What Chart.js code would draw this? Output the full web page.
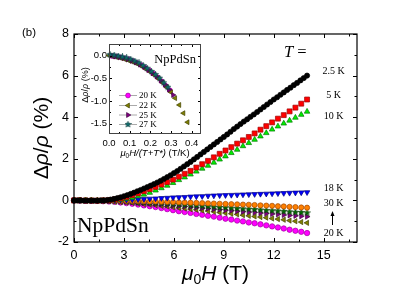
<!DOCTYPE html>
<html>
<head>
<meta charset="utf-8">
<script src="https://cdn.jsdelivr.net/npm/chart.js@4/dist/chart.umd.min.js"></script>
<style>
  html, body { margin: 0; padding: 0; background: #fff; }
  #wrap { position: relative; width: 415px; height: 291px; }
  #main { position: absolute; left: 0; top: 0; }
  #inset { position: absolute; left: 80px; top: 36px; }
</style>
</head>
<body>
<div id="wrap">
  <canvas id="main" width="415" height="291"></canvas>
  <canvas id="inset" width="130" height="125"></canvas>
</div>
<script>
// field in tesla
var field = [0, 0.35, 0.7, 1.05, 1.4, 1.75, 2.1, 2.45, 2.8, 3.15, 3.5, 3.85, 4.2, 4.55, 4.9, 5.25, 5.6, 5.95, 6.3, 6.65,
  7, 7.35, 7.7, 8.05, 8.4, 8.75, 9.1, 9.45, 9.8, 10.15, 10.5, 10.85, 11.2, 11.55, 11.9, 12.25, 12.6, 12.95, 13.3, 13.65, 14];
// the 2.5 K run was measured on a finer field grid
var field2p5K = [0, 0.2, 0.4, 0.6, 0.8, 1, 1.2, 1.4, 1.6, 1.8, 2, 2.2, 2.4, 2.6, 2.8, 3, 3.2, 3.4, 3.6, 3.8,
  4, 4.2, 4.4, 4.6, 4.8, 5, 5.2, 5.4, 5.6, 5.8, 6, 6.2, 6.4, 6.6, 6.8, 7, 7.2, 7.4, 7.6, 7.8,
  8, 8.2, 8.4, 8.6, 8.8, 9, 9.2, 9.4, 9.6, 9.8, 10, 10.2, 10.4, 10.6, 10.8, 11, 11.2, 11.4, 11.6, 11.8,
  12, 12.2, 12.4, 12.6, 12.8, 13, 13.2, 13.4, 13.6, 13.8, 14];

// magnetoresistance in %
var mr2p5K = [0, 0, 0, -0.01, -0.01, -0.01, -0.01, -0.01, 0, 0, 0.02, 0.04, 0.07, 0.11, 0.15, 0.2, 0.25, 0.31, 0.37, 0.44,
  0.5, 0.57, 0.64, 0.71, 0.78, 0.86, 0.94, 1.03, 1.12, 1.21, 1.31, 1.41, 1.52, 1.63, 1.74, 1.85, 1.97, 2.09, 2.21, 2.33,
  2.45, 2.57, 2.69, 2.81, 2.93, 3.05, 3.17, 3.3, 3.43, 3.55, 3.67, 3.79, 3.9, 4.02, 4.13, 4.25, 4.37, 4.49, 4.61, 4.73,
  4.85, 4.96, 5.08, 5.19, 5.31, 5.42, 5.54, 5.65, 5.77, 5.88, 6.0];
var mr5K = [0, 0, -0.01, -0.01, -0.01, 0, 0.01, 0.05, 0.1, 0.17, 0.25, 0.34, 0.44, 0.54, 0.65, 0.76, 0.88, 1.0, 1.14, 1.28,
  1.42, 1.58, 1.74, 1.9, 2.07, 2.24, 2.4, 2.56, 2.73, 2.89, 3.05, 3.22, 3.4, 3.57, 3.75, 3.93, 4.1, 4.28, 4.46, 4.65, 4.85];
var mr10K = [0, 0, -0.01, -0.01, -0.02, -0.02, -0.01, 0.01, 0.04, 0.08, 0.13, 0.2, 0.28, 0.37, 0.48, 0.59, 0.71, 0.84, 0.98, 1.11,
  1.25, 1.39, 1.53, 1.67, 1.82, 1.97, 2.12, 2.28, 2.44, 2.61, 2.76, 2.92, 3.08, 3.24, 3.41, 3.56, 3.7, 3.84, 3.98, 4.12, 4.27];
var mr18K = [0, 0, 0, 0, 0, 0.01, 0.01, 0.01, 0.02, 0.03, 0.04, 0.05, 0.06, 0.08, 0.09, 0.11, 0.12, 0.14, 0.15, 0.16,
  0.18, 0.19, 0.2, 0.22, 0.23, 0.24, 0.25, 0.26, 0.27, 0.28, 0.29, 0.3, 0.31, 0.32, 0.33, 0.34, 0.35, 0.36, 0.37, 0.38, 0.39];
var mr30K = [0, 0, 0, 0, -0.01, -0.01, -0.01, -0.02, -0.02, -0.02, -0.03, -0.03, -0.04, -0.05, -0.05, -0.06, -0.07, -0.08, -0.09, -0.1,
  -0.11, -0.12, -0.13, -0.14, -0.15, -0.16, -0.17, -0.18, -0.19, -0.2, -0.21, -0.22, -0.24, -0.25, -0.26, -0.28, -0.29, -0.31, -0.32, -0.34, -0.35];
var mr27K = [0, 0, 0, -0.01, -0.01, -0.02, -0.02, -0.03, -0.04, -0.05, -0.06, -0.08, -0.09, -0.11, -0.12, -0.14, -0.16, -0.18, -0.2, -0.22,
  -0.24, -0.26, -0.28, -0.3, -0.32, -0.34, -0.35, -0.37, -0.39, -0.41, -0.42, -0.44, -0.46, -0.48, -0.5, -0.51, -0.53, -0.55, -0.57, -0.58, -0.6];
var mr25K = [0, 0, -0.01, -0.01, -0.02, -0.02, -0.03, -0.04, -0.06, -0.07, -0.09, -0.11, -0.13, -0.15, -0.17, -0.19, -0.22, -0.24, -0.27, -0.29,
  -0.32, -0.34, -0.37, -0.39, -0.42, -0.44, -0.47, -0.49, -0.52, -0.54, -0.56, -0.58, -0.61, -0.63, -0.65, -0.67, -0.7, -0.72, -0.74, -0.76, -0.78];
var mr22K = [0, 0, -0.01, -0.01, -0.02, -0.03, -0.04, -0.06, -0.08, -0.1, -0.12, -0.15, -0.18, -0.2, -0.23, -0.26, -0.29, -0.33, -0.36, -0.39,
  -0.42, -0.45, -0.48, -0.51, -0.54, -0.58, -0.61, -0.64, -0.67, -0.71, -0.74, -0.77, -0.8, -0.83, -0.87, -0.9, -0.93, -0.97, -1.0, -1.04, -1.08];
var mr20K = [0, 0, -0.01, -0.01, -0.02, -0.04, -0.05, -0.07, -0.1, -0.13, -0.16, -0.2, -0.24, -0.28, -0.32, -0.37, -0.42, -0.47, -0.52, -0.56,
  -0.6, -0.65, -0.69, -0.74, -0.78, -0.83, -0.88, -0.92, -0.97, -1.01, -1.06, -1.1, -1.15, -1.2, -1.25, -1.3, -1.35, -1.41, -1.46, -1.51, -1.57];

var tempLabels = ['2.5 K', '5 K', '10 K', '18 K', '30 K', '20 K'];

// inset: scaled field mu0H/(T+T*)
var scaled20K = [0.015, 0.035, 0.055, 0.075, 0.095, 0.115, 0.135, 0.155, 0.175, 0.195, 0.215, 0.235, 0.255, 0.275, 0.295];
var inset20K = [-0.01, -0.02, -0.04, -0.06, -0.08, -0.12, -0.16, -0.21, -0.27, -0.33, -0.4, -0.48, -0.57, -0.67, -0.77];
var scaled22K = [0, 0.02, 0.04, 0.06, 0.08, 0.1, 0.12, 0.14, 0.16, 0.18, 0.2, 0.22, 0.24, 0.26, 0.28, 0.3, 0.32, 0.34, 0.36, 0.38];
var inset22K = [0, -0.02, -0.04, -0.06, -0.09, -0.12, -0.15, -0.19, -0.24, -0.3, -0.36, -0.43, -0.51, -0.6, -0.7, -0.81, -0.94, -1.09, -1.27, -1.47];
var scaled25K = [0.01, 0.03, 0.05, 0.07, 0.09, 0.11, 0.13, 0.15, 0.17, 0.19, 0.21, 0.23, 0.25, 0.27, 0.29, 0.31];
var inset25K = [0, -0.02, -0.03, -0.05, -0.08, -0.11, -0.15, -0.2, -0.25, -0.32, -0.39, -0.46, -0.55, -0.64, -0.75, -0.87];
var scaled27K = [0.005, 0.025, 0.045, 0.065, 0.085, 0.105, 0.125, 0.145, 0.165, 0.185, 0.205, 0.225, 0.245, 0.265, 0.285];
var inset27K = [0.02, 0.01, -0.01, -0.03, -0.05, -0.08, -0.12, -0.16, -0.22, -0.28, -0.35, -0.42, -0.5, -0.6, -0.7];
var insetLabels = ['20 K', '22 K', '25 K', '27 K'];

function pts(xs, ys) {
  return xs.map(function(x, i) { return {x: x, y: ys[i]}; });
}

function starImg(fill, edge, size) {
  var c = document.createElement('canvas');
  c.width = size; c.height = size;
  var g = c.getContext('2d');
  var cx = size / 2, cy = size / 2, ro = size / 2 - 0.3, ri = ro * 0.45;
  g.beginPath();
  for (var i = 0; i < 10; i++) {
    var r = i % 2 ? ri : ro;
    var a = -Math.PI / 2 + i * Math.PI / 5;
    g.lineTo(cx + r * Math.cos(a), cy + r * Math.sin(a));
  }
  g.closePath();
  g.fillStyle = fill; g.fill();
  g.strokeStyle = edge; g.lineWidth = 0.6; g.stroke();
  return c;
}

function series(xs, ys, fill, edge, style, rot, r) {
  return {
    data: pts(xs, ys), showLine: false, pointStyle: style, rotation: rot || 0,
    pointRadius: r, backgroundColor: fill, borderColor: edge, borderWidth: 0.7, clip: false
  };
}

function drawRuns(ctx, runs, x, y, align) {
  var w = 0;
  runs.forEach(function(r) { ctx.font = r.f; r.w = ctx.measureText(r.t).width; w += r.w; });
  var cx = align === 'center' ? x - w / 2 : (align === 'right' ? x - w : x);
  runs.forEach(function(r) {
    ctx.font = r.f;
    ctx.fillText(r.t, cx, y + (r.dy || 0));
    cx += r.w;
  });
}

function line(ctx, x1, y1, x2, y2) {
  ctx.beginPath(); ctx.moveTo(x1, y1); ctx.lineTo(x2, y2); ctx.stroke();
}

var tickFont = {family: 'Liberation Sans', size: 12.5};

var mainDecor = {
  id: 'mainDecor',
  afterDraw: function(chart) {
    var ctx = chart.ctx, a = chart.chartArea, xs = chart.scales.x, ys = chart.scales.y;
    ctx.save();
    ctx.strokeStyle = '#000';
    ctx.lineWidth = 1;
    var v, p, len;
    for (v = 0; v <= 17; v += 1.5) {
      p = Math.round(xs.getPixelForValue(v)) + 0.5;
      len = v % 3 === 0 ? 4 : 2.5;
      line(ctx, p, a.bottom, p, a.bottom - len);
      line(ctx, p, a.top, p, a.top + len);
    }
    for (v = -2; v <= 8; v += 1) {
      p = Math.round(ys.getPixelForValue(v)) + 0.5;
      len = v % 2 === 0 ? 4 : 2.5;
      line(ctx, a.left, p, a.left + len, p);
      line(ctx, a.right, p, a.right - len, p);
    }
    ctx.lineWidth = 1.2;
    ctx.strokeRect(a.left, a.top, a.right - a.left, a.bottom - a.top);

    ctx.fillStyle = '#000';
    ctx.textBaseline = 'alphabetic';
    ctx.font = '11.5px "Liberation Sans"';
    ctx.fillText('(b)', 22, 36);

    // axis titles
    drawRuns(ctx, [
      {t: 'μ', f: 'italic 21px "Liberation Sans"'},
      {t: '0', f: '14px "Liberation Sans"', dy: 4},
      {t: 'H', f: 'italic 21px "Liberation Sans"'},
      {t: ' (T)', f: '21px "Liberation Sans"'}
    ], (a.left + a.right) / 2, 280, 'center');

    ctx.save();
    ctx.translate(48, (a.top + a.bottom) / 2);
    ctx.rotate(-Math.PI / 2);
    drawRuns(ctx, [
      {t: 'Δ', f: '21px "Liberation Sans"'},
      {t: 'ρ', f: 'italic 21px "Liberation Sans"'},
      {t: '/', f: '21px "Liberation Sans"'},
      {t: 'ρ', f: 'italic 21px "Liberation Sans"'},
      {t: ' (%)', f: '21px "Liberation Sans"'}
    ], 0, 0, 'center');
    ctx.restore();

    drawRuns(ctx, [
      {t: 'T', f: 'italic 16.5px "Liberation Serif"'},
      {t: ' =', f: '16.5px "Liberation Serif"'}
    ], 284, 56.5, 'left');

    ctx.font = '10px "Liberation Serif"';
    ctx.textAlign = 'center';
    var labelY = [74, 98, 119, 191, 206, 236];
    tempLabels.forEach(function(t, i) { ctx.fillText(t, 333.5, labelY[i]); });
    ctx.textAlign = 'left';

    // arrow from 20 K up to 30 K
    ctx.lineWidth = 1;
    line(ctx, 332.5, 225, 332.5, 214);
    ctx.beginPath();
    ctx.moveTo(332.5, 211); ctx.lineTo(330.5, 216); ctx.lineTo(334.5, 216); ctx.closePath();
    ctx.fill();

    ctx.font = '21.5px "Liberation Serif"';
    ctx.fillText('NpPdSn', 77, 231.5);
    ctx.restore();
  }
};

new Chart(document.getElementById('main'), {
  type: 'scatter',
  data: {
    datasets: [
      series(field2p5K, mr2p5K, '#000000', '#000000', 'circle', 0, 2.6),
      series(field, mr5K, '#ff0000', '#a00000', 'rect', 0, 3.5),
      series(field, mr10K, '#00ee00', '#007a00', 'triangle', 0, 3.2),
      series(field, mr18K, '#0000ff', '#000080', 'triangle', 180, 3.2),
      series(field, mr30K, '#ff8000', '#a04800', 'circle', 0, 2.6),
      series(field, mr27K, '#006a00', '#003800', starImg('#006a00', '#003000', 7), 0, 3),
      series(field, mr25K, '#800080', '#400040', 'triangle', 90, 3),
      series(field, mr22K, '#808000', '#404000', 'triangle', 270, 3),
      series(field, mr20K, '#ff00ff', '#a000a0', 'circle', 0, 2.7)
    ]
  },
  options: {
    responsive: false, animation: false, devicePixelRatio: 1,
    layout: {padding: {left: 0, top: 34, right: 58, bottom: 0}},
    plugins: {legend: {display: false}, tooltip: {enabled: false}},
    scales: {
      x: {
        type: 'linear', min: 0, max: 17,
        afterFit: function(s) { s.height = 49; },
        grid: {display: false, drawTicks: false}, border: {display: false},
        ticks: {stepSize: 3, includeBounds: false, padding: 6, color: '#000', font: tickFont, maxRotation: 0}
      },
      y: {
        min: -2, max: 8,
        afterFit: function(s) { s.width = 74; },
        grid: {display: false, drawTicks: false}, border: {display: false},
        ticks: {stepSize: 2, padding: 5, color: '#000', font: tickFont}
      }
    }
  },
  plugins: [mainDecor]
});

// ---- inset ----
var insetStyles = [
  {fill: '#ff00ff', edge: '#a000a0', style: 'circle', rot: 0, r: 2.4},
  {fill: '#808000', edge: '#404000', style: 'triangle', rot: 270, r: 2.8},
  {fill: '#800080', edge: '#400040', style: 'triangle', rot: 90, r: 2.8},
  {fill: '#0f6e6e', edge: '#063838', style: starImg('#0f6e6e', '#063838', 7), rot: 0, r: 3}
];

var insetDecor = {
  id: 'insetDecor',
  beforeDraw: function(chart) {
    var ctx = chart.ctx, a = chart.chartArea;
    ctx.save();
    ctx.fillStyle = '#fff';
    ctx.fillRect(a.left, a.top, a.right - a.left, a.bottom - a.top);
    ctx.restore();
  },
  afterDraw: function(chart) {
    var ctx = chart.ctx, a = chart.chartArea, xs = chart.scales.x, ys = chart.scales.y;
    ctx.save();
    ctx.strokeStyle = '#000';
    ctx.lineWidth = 1;
    var v, p, len;
    for (v = 0; v <= 0.44; v += 0.05) {
      p = Math.round(xs.getPixelForValue(v)) + 0.5;
      len = Math.round(v * 100) % 10 === 0 ? 3 : 2;
      line(ctx, p, a.bottom, p, a.bottom - len);
      line(ctx, p, a.top, p, a.top + len);
    }
    for (v = -1.5; v <= 0.25; v += 0.25) {
      p = Math.round(ys.getPixelForValue(v)) + 0.5;
      len = Math.round(v * 100) % 50 === 0 ? 3 : 2;
      line(ctx, a.left, p, a.left + len, p);
      line(ctx, a.right, p, a.right - len, p);
    }
    ctx.strokeStyle = '#444';
    ctx.strokeRect(a.left + 0.5, a.top + 0.5, a.right - a.left - 1, a.bottom - a.top - 1);

    ctx.fillStyle = '#000';
    ctx.font = '12.5px "Liberation Serif"';
    ctx.textAlign = 'right';
    ctx.fillText('NpPdSn', 116, 27);
    ctx.textAlign = 'left';

    // legend
    var rows = [59, 69, 78.5, 88];
    insetLabels.forEach(function(t, i) {
      var s = insetStyles[i];
      ctx.strokeStyle = '#aaa';
      ctx.lineWidth = 1;
      line(ctx, 39, rows[i] + 0.5, 57, rows[i] + 0.5);
      ctx.fillStyle = s.fill; ctx.strokeStyle = s.edge; ctx.lineWidth = 0.7;
      Chart.helpers.drawPoint(ctx, {pointStyle: s.style, rotation: s.rot, radius: s.r, borderWidth: 0.7}, 48, rows[i] + 0.5);
      ctx.fillStyle = '#000';
      ctx.font = '9px "Liberation Serif"';
      ctx.fillText(t, 59, rows[i] + 3);
    });

    drawRuns(ctx, [
      {t: 'μ', f: 'italic 9.5px "Liberation Sans"'},
      {t: '0', f: '6.5px "Liberation Sans"', dy: 2},
      {t: 'H/(T+T*)', f: 'italic 9.5px "Liberation Sans"'},
      {t: ' (T/K)', f: '9.5px "Liberation Sans"'}
    ], (a.left + a.right) / 2, 120, 'center');

    ctx.save();
    ctx.translate(8, 49);
    ctx.rotate(-Math.PI / 2);
    drawRuns(ctx, [
      {t: 'Δ', f: '9px "Liberation Sans"'},
      {t: 'ρ', f: 'italic 9px "Liberation Sans"'},
      {t: '/', f: '9px "Liberation Sans"'},
      {t: 'ρ', f: 'italic 9px "Liberation Sans"'},
      {t: ' (%)', f: '9px "Liberation Sans"'}
    ], 0, 0, 'center');
    ctx.restore();
    ctx.restore();
  }
};

var insetFont = {family: 'Liberation Sans', size: 9.5};

new Chart(document.getElementById('inset'), {
  type: 'scatter',
  data: {
    datasets: [
      series(scaled27K, inset27K, insetStyles[3].fill, insetStyles[3].edge, insetStyles[3].style, 0, 3),
      series(scaled25K, inset25K, insetStyles[2].fill, insetStyles[2].edge, 'triangle', 90, 2.8),
      series(scaled22K, inset22K, insetStyles[1].fill, insetStyles[1].edge, 'triangle', 270, 2.8),
      series(scaled20K, inset20K, insetStyles[0].fill, insetStyles[0].edge, 'circle', 0, 2.4)
    ]
  },
  options: {
    responsive: false, animation: false, devicePixelRatio: 1,
    layout: {padding: {left: 0, top: 8, right: 9, bottom: 0}},
    plugins: {legend: {display: false}, tooltip: {enabled: false}},
    scales: {
      x: {
        type: 'linear', min: 0, max: 0.445,
        afterFit: function(s) { s.height = 27; },
        grid: {display: false, drawTicks: false}, border: {display: false},
        ticks: {stepSize: 0.1, includeBounds: false, padding: 4, color: '#000', font: insetFont, maxRotation: 0,
          callback: function(v) { return v.toFixed(1); }}
      },
      y: {
        min: -1.73, max: 0.255,
        afterFit: function(s) { s.width = 29; },
        grid: {display: false, drawTicks: false}, border: {display: false},
        ticks: {stepSize: 0.5, includeBounds: false, padding: 2, color: '#000', font: insetFont,
          callback: function(v) { return v.toFixed(1); }}
      }
    }
  },
  plugins: [insetDecor]
});
</script>
</body>
</html>
